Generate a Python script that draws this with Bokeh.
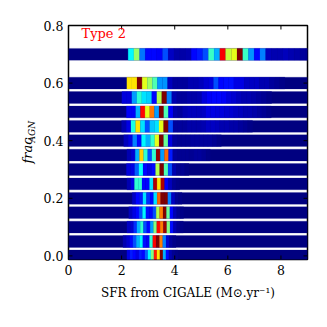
from bokeh.plotting import figure
from bokeh.models import ColumnDataSource, LinearColorMapper, Label, FixedTicker, Range1d
from bokeh.transform import transform
from bokeh.embed import file_html
from bokeh.resources import INLINE

# Each row: frac_AGN centre, first bin edge, bin width, then colour levels per bin
row_fracs = [0.70, 0.60, 0.55, 0.50, 0.45, 0.40, 0.35, 0.30, 0.25, 0.20, 0.15, 0.10, 0.05, 0.00]
row_starts = [2.247, 2.197, 2.01, 2.18, 2.0, 2.08, 2.2, 2.18, 2.2, 2.4, 2.27, 2.2, 2.05, 2.2]
row_widths = [0.2158, 0.192, 0.188, 0.176, 0.176, 0.167, 0.157, 0.157, 0.142, 0.134, 0.129, 0.125, 0.125, 0.113]

r70 = [.37, .52, .24, .13, .13, .12, .20, .07, .04, .04, .05, .13, .15, .20, .43, .30, .88, .57, .60, 1.0, .43, .27, .13, .25, .06, .05, .05, .06, .05, .04, .03, .02]
r60 = [.65, .65, 1.0, .60, .53, .45, .27, .27, .06, .03, .03, .03, .05, .05, .06, .08, .09, .20, .13, .14, .14, .10, .10, .07, .07, .07, .05, .05, .03, .02, .01]
r55 = [.09, .09, .28, .42, .35, .33, .13, .55, 1.0, .25, .05, .03, .03, .04, .04, .05, .09, .12, .13, .13, .12, .09, .08, .06, .05, .05, .04, .03, .02, .01]
r50 = [.12, .12, .30, .87, .60, .76, .28, 1.0, .45, .12, .04, .03, .05, .06, .06, .06, .07, .10, .10, .09, .09, .08, .08, .07, .06, .05, .05, .04, .03, .02, .01]
r45 = [.05, .10, .40, .65, .35, .20, .32, .35, .60, 1.0, .20, .03, .03, .03, .04, .04, .04, .05, .07, .07, .06, .05, .05, .04, .04, .03, .02, .01]
r40 = [.06, .10, .25, .13, .37, .30, .42, .60, 1.0, .48, .10, .03, .02, .02, .02, .03, .03, .03, .03, .03, .02, .01]
r35 = [.05, .08, .30, .67, .42, .20, .42, .98, .28, .77, .15, .03, .02, .02, .02, .02, .03, .03, .02, .01]
r30 = [.09, .10, .22, .38, .13, .10, .13, .55, 1.0, .45, .20, .05, .02, .02, .01]
r25 = [.05, .10, .42, .42, .13, .13, .35, .95, .65, .95, .12, .06, .02, .01]
r20 = [.07, .13, .15, .35, .17, .13, .35, .78, 1.0, 1.0, .25, .07, .02, .01]
r15 = [.06, .10, .13, .20, .37, .14, .13, .20, .55, .75, 1.0, .48, .13, .05, .02, .01]
r10 = [.07, .08, .17, .30, .42, .20, .13, .28, .50, .87, .75, .97, .50, .14, .05, .02, .01]
r05 = [.05, .08, .13, .20, .30, .37, .14, .12, .42, .87, 1.0, .75, .25, .08, .03, .01]
r00 = [.10, .15, .13, .10, .15, .13, .22, .37, .50, .85, .65, 1.0, .30, .13, .05, .02, .01]
row_values = [r70, r60, r55, r50, r45, r40, r35, r30, r25, r20, r15, r10, r05, r00]

x_ticks = [0, 2, 4, 6, 8]
y_ticks = [0.0, 0.2, 0.4, 0.6, 0.8]
x_tick_labels = ["0", "2", "4", "6", "8"]
y_tick_labels = ["0.0", "0.2", "0.4", "0.6", "0.8"]
x_label = "SFR from CIGALE (M\u2299.yr\u207b\u00b9)"
note = "Type 2"
ROW_H = 0.041
X_MIN, X_MAX, Y_MIN, Y_MAX = 0, 9, -0.0125, 0.8
TICK_X = 0.15   # tick length in x data units
TICK_Y = 0.0139  # tick length in y data units


def jet(t):
    def c(v):
        return int(round(255 * max(0.0, min(1.0, v))))
    return "#%02x%02x%02x" % (c(1.5 - abs(4 * t - 3)), c(1.5 - abs(4 * t - 2)), c(1.5 - abs(4 * t - 1)))


palette = [jet(i / 255) for i in range(256)]
mapper = LinearColorMapper(palette=palette, low=0, high=1)

left, right, bottom, top, level = [], [], [], [], []
for f, s, w, vals in zip(row_fracs, row_starts, row_widths, row_values):
    left.append(0)
    right.append(9)
    bottom.append(f - ROW_H / 2)
    top.append(f + ROW_H / 2)
    level.append(0)
    for k, v in enumerate(vals):
        left.append(s + k * w)
        right.append(min(9, s + (k + 1) * w))
        bottom.append(f - ROW_H / 2)
        top.append(f + ROW_H / 2)
        level.append(v)
src = ColumnDataSource(dict(left=left, right=right, bottom=bottom, top=top, level=level))

p = figure(width=319, height=319, frame_width=239, frame_height=234,
           min_border_left=68, min_border_right=12, min_border_top=25, min_border_bottom=60,
           x_range=Range1d(X_MIN, X_MAX), y_range=Range1d(Y_MIN, Y_MAX),
           output_backend="svg", toolbar_location=None)
p.quad(left="left", right="right", bottom="bottom", top="top", source=src,
       fill_color=transform("level", mapper), line_color=transform("level", mapper), line_width=0.2)

# tick marks on all four sides, inward
sx0, sx1, sy0, sy1 = [], [], [], []
for t in x_ticks:
    sx0 += [t, t]
    sx1 += [t, t]
    sy0 += [Y_MIN, Y_MAX]
    sy1 += [Y_MIN + TICK_Y, Y_MAX - TICK_Y]
for t in y_ticks:
    sy0 += [t, t]
    sy1 += [t, t]
    sx0 += [X_MIN, X_MAX]
    sx1 += [X_MIN + TICK_X, X_MAX - TICK_X]
p.segment(sx0, sy0, sx1, sy1, line_color="black", line_width=1)

p.xgrid.visible = False
p.ygrid.visible = False
p.outline_line_color = "black"
p.outline_line_width = 1.5

FONT = "DejaVu Serif"
for ax, ticks, labels in ((p.xaxis[0], x_ticks, x_tick_labels), (p.yaxis[0], y_ticks, y_tick_labels)):
    ax.ticker = FixedTicker(ticks=ticks)
    ax.major_label_overrides = dict(zip(ticks, labels))
    ax.major_tick_in = 0
    ax.major_tick_out = 0
    ax.minor_tick_in = 0
    ax.minor_tick_out = 0
    ax.axis_line_color = None
    ax.major_label_text_font = FONT
    ax.major_label_text_font_size = "12.5px"
    ax.major_label_text_color = "black"
    ax.major_label_standoff = 5
p.xaxis[0].axis_label = x_label
p.xaxis[0].axis_label_text_font = FONT
p.xaxis[0].axis_label_text_font_style = "normal"
p.xaxis[0].axis_label_text_font_size = "12px"
p.xaxis[0].axis_label_text_color = "black"
p.xaxis[0].axis_label_standoff = 8

p.add_layout(Label(x=13, y=219, x_units="screen", y_units="screen", text=note, text_color="red",
                   text_font=FONT, text_font_size="13px"))
p.add_layout(Label(x=9, y=96, x_units="screen", y_units="screen", text="frac", angle=90, angle_units="deg",
                   text_font=FONT, text_font_style="italic", text_font_size="13px", text_color="black"), "left")
p.add_layout(Label(x=21, y=117, x_units="screen", y_units="screen", text="AGN", angle=90, angle_units="deg",
                   text_font=FONT, text_font_style="italic", text_font_size="9px", text_color="black"), "left")

open("out.html", "w").write(file_html(p, INLINE))
